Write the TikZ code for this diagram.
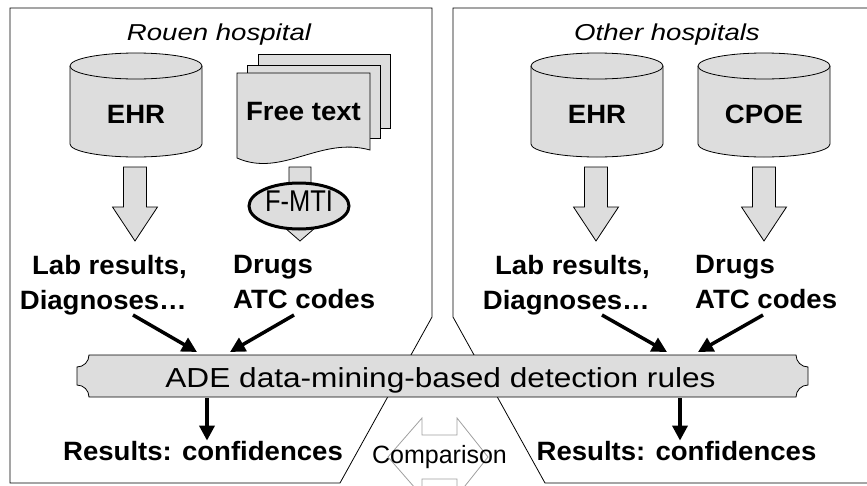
\documentclass[tikz,border=0pt]{standalone}
\usepackage{fontspec}
\setmainfont{Liberation Sans}
\newfontfamily\ttlfont[FakeStretch=1.2]{Liberation Sans}
\newfontfamily\lblfont[FakeStretch=1.04]{Liberation Sans}
\newfontfamily\adefont[FakeStretch=1.15]{Liberation Sans}
\newfontfamily\mtifont[FakeStretch=0.85]{Liberation Sans}
\usetikzlibrary{arrows.meta,calc}
\definecolor{BoxGray}{HTML}{DDDDDD}
\definecolor{EdgeGray}{HTML}{A0A0A0}

\begin{document}
\begin{tikzpicture}[x=1pt,y=-1pt,
    every node/.style={inner sep=0pt,text=black},
    ttl/.style={font=\ttlfont\itshape\fontsize{23}{26}\selectfont,anchor=base},
    lbl/.style={font=\lblfont\bfseries\fontsize{26.5}{35}\selectfont},
    panel/.style={draw=black,line width=0.8pt},
    blk/.style={draw=black,fill=BoxGray,line width=0.8pt},
    fat/.style={-{Triangle[length=15pt,width=15pt]},line width=3.5pt}]
  \useasboundingbox (0,0) rectangle (867,485);
  \clip (0,0) rectangle (867,485);

  % the two hospital panels
  \draw[panel] (10,8) -- (432,8) -- (432,317) -- (340,483) -- (10,483) -- cycle;
  \draw[panel] (453,317) -- (453,8) -- (880,8) -- (880,483) -- (545,483) -- cycle;
  \node[ttl] (rouen) at (219,40) {Rouen hospital};
  \node[ttl] (other) at (667,40) {Other hospitals};

  % databases
  \foreach \cx/\nm/\txt in {136/ehrRouen/EHR, 597/ehrOther/EHR, 764/cpoeOther/CPOE} {
    \draw[blk] (\cx-66,66) -- (\cx-66,144)
      arc[start angle=180,end angle=360,x radius=66pt,y radius=13pt] -- (\cx+66,66);
    \draw[blk] (\cx,66) ellipse[x radius=66pt,y radius=13pt];
    \node[lbl,anchor=base] (\nm) at (\cx,123) {\txt};
  }

  % free text documents
  \draw[blk] (258,54) rectangle (390,128);
  \draw[blk] (247,65) rectangle (380,138);
  \draw[blk] (237,73) -- (370,73) -- (370,150)
    .. controls (320,136) and (282,178) .. (237,158) -- cycle;
  \node[lbl,anchor=base] (free) at (303.5,120) {Free text};

  % block arrows
  \foreach \cx in {135,596,764}
    \draw[blk] (\cx-11.5,167) -- (\cx+11.5,167) -- (\cx+11.5,207) -- (\cx+22.5,207)
      -- (\cx,241) -- (\cx-22.5,207) -- (\cx-11.5,207) -- cycle;
  \draw[blk] (289,167) -- (311,167) -- (311,221) -- (323,221) -- (300,241)
    -- (277,221) -- (289,221) -- cycle;
  \draw[draw=black,fill=BoxGray,line width=3pt] (299,206) ellipse[x radius=50pt,y radius=23pt];
  \node[font=\mtifont\fontsize{30}{36}\selectfont,anchor=base] (fmti) at (299,211) {F-MTI};

  % extracted data
  \node[lbl,align=right,anchor=north east] (labRouen) at (187,255) {Lab results,\\Diagnoses…};
  \node[lbl,align=left,anchor=north west] (drugRouen) at (233,255) {Drugs\\ATC codes};
  \node[lbl,align=right,anchor=north east] (labOther) at (650,255) {Lab results,\\Diagnoses…};
  \node[lbl,align=left,anchor=north west] (drugOther) at (695,255) {Drugs\\ATC codes};

  % detection rules
  \draw[blk] (89,355) -- (796,355) arc[start angle=180,end angle=270,radius=12pt]
    -- (808,385) arc[start angle=90,end angle=180,radius=12pt]
    -- (89,397) arc[start angle=0,end angle=90,radius=12pt]
    -- (77,367) arc[start angle=270,end angle=360,radius=12pt] -- cycle;
  \node[font=\adefont\fontsize{27.5}{30}\selectfont,anchor=base] (ade) at (440.5,387)
    {ADE data-mining-based detection rules};

  \coordinate (fromLabR) at (133,315);  \coordinate (toLabR) at (197,352);
  \coordinate (fromDrugR) at (294,315); \coordinate (toDrugR) at (230,352);
  \coordinate (fromLabO) at (602,315);  \coordinate (toLabO) at (667,352);
  \coordinate (fromDrugO) at (763,315); \coordinate (toDrugO) at (698,352);
  \draw[fat] (fromLabR) -- (toLabR);
  \draw[fat] (fromDrugR) -- (toDrugR);
  \draw[fat] (fromLabO) -- (toLabO);
  \draw[fat] (fromDrugO) -- (toDrugO);

  % results
  \node[lbl,anchor=base] (resRouen) at (203,460) {Results: confidences};
  \node[lbl,anchor=base] (resOther) at (676.5,460) {Results: confidences};
  \coordinate (outR) at (207,398); \coordinate (outO) at (680,398);
  \draw[fat] (outR) -- (resRouen.north -| outR);
  \draw[fat] (outO) -- (resOther.north -| outO);

  % comparison
  \draw[draw=EdgeGray,fill=white,line width=0.8pt] (388,457) -- (422,418) -- (422,435)
    -- (457,435) -- (457,418) -- (488,457) -- (457,496) -- (457,479) -- (422,479)
    -- (422,496) -- cycle;
  \node[font=\fontsize{25}{28}\selectfont,anchor=base] (cmp) at (439.5,463) {Comparison};
\end{tikzpicture}
\end{document}
